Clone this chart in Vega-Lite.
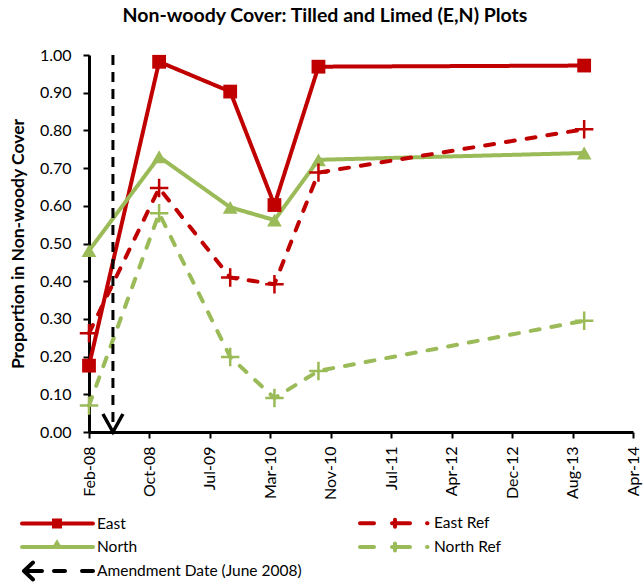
{
  "$schema": "https://vega.github.io/schema/vega-lite/v6.json",
  "width": 544,
  "height": 377,
  "autosize": {"type": "none"},
  "padding": {"left": 89, "top": 55, "right": 11, "bottom": 150},
  "background": "white",
  "config": {"font": "Lato", "view": {"stroke": null}},
  "title": {"text": "Non-woody Cover: Tilled and Limed (E,N) Plots", "fontSize": 19.5, "fontWeight": "bold", "font": "Lato", "color": "black", "anchor": "middle", "dx": -36, "offset": 21},
  "data": {"values": [
    {"series": "East", "date": "2008-02-23", "value": 0.176},
    {"series": "East", "date": "2008-12-09", "value": 0.982},
    {"series": "East", "date": "2009-09-29", "value": 0.903},
    {"series": "East", "date": "2010-03-31", "value": 0.602},
    {"series": "East", "date": "2010-09-29", "value": 0.969},
    {"series": "East", "date": "2013-10-02", "value": 0.972},
    {"series": "North", "date": "2008-02-23", "value": 0.481},
    {"series": "North", "date": "2008-12-09", "value": 0.730},
    {"series": "North", "date": "2009-09-29", "value": 0.596},
    {"series": "North", "date": "2010-03-31", "value": 0.562},
    {"series": "North", "date": "2010-09-29", "value": 0.722},
    {"series": "North", "date": "2013-10-02", "value": 0.740},
    {"series": "East Ref", "date": "2008-02-23", "value": 0.262},
    {"series": "East Ref", "date": "2008-12-09", "value": 0.647},
    {"series": "East Ref", "date": "2009-09-29", "value": 0.410},
    {"series": "East Ref", "date": "2010-03-31", "value": 0.392},
    {"series": "East Ref", "date": "2010-09-29", "value": 0.688},
    {"series": "East Ref", "date": "2013-10-02", "value": 0.803},
    {"series": "North Ref", "date": "2008-02-23", "value": 0.070},
    {"series": "North Ref", "date": "2008-12-09", "value": 0.580},
    {"series": "North Ref", "date": "2009-09-29", "value": 0.199},
    {"series": "North Ref", "date": "2010-03-31", "value": 0.090},
    {"series": "North Ref", "date": "2010-09-29", "value": 0.162},
    {"series": "North Ref", "date": "2013-10-02", "value": 0.295},
    {"series": "Amendment Date (June 2008)", "date": "2008-06-01", "value": 1.0},
    {"series": "Amendment Date (June 2008)", "date": "2008-06-01", "value": 0.0}
  ]},
  "encoding": {
    "x": {
      "field": "date", "type": "temporal",
      "scale": {"type": "utc", "domain": [{"year": 2008, "month": 2, "date": 23, "utc": true}, {"year": 2014, "month": 4, "date": 22, "utc": true}]},
      "axis": {
        "values": [
          {"year": 2008, "month": 2, "date": 23, "utc": true},
          {"year": 2008, "month": 10, "date": 30, "utc": true},
          {"year": 2009, "month": 7, "date": 7, "utc": true},
          {"year": 2010, "month": 3, "date": 14, "utc": true},
          {"year": 2010, "month": 11, "date": 19, "utc": true},
          {"year": 2011, "month": 7, "date": 27, "utc": true},
          {"year": 2012, "month": 4, "date": 2, "utc": true},
          {"year": 2012, "month": 12, "date": 8, "utc": true},
          {"year": 2013, "month": 8, "date": 15, "utc": true},
          {"year": 2014, "month": 4, "date": 22, "utc": true}
        ],
        "format": "%b-%y",
        "labelAngle": 270, "labelAlign": "right", "labelBaseline": "middle",
        "labelFontSize": 16, "labelColor": "black", "labelPadding": 8,
        "labelFlush": false, "labelOverlap": false,
        "tickSize": 6, "tickWidth": 2, "tickColor": "black",
        "domainColor": "black", "domainWidth": 3,
        "grid": false, "title": null
      }
    },
    "y": {
      "field": "value", "type": "quantitative",
      "scale": {"domain": [0, 1]},
      "axis": {
        "values": [0, 0.1, 0.2, 0.3, 0.4, 0.5, 0.6, 0.7, 0.8, 0.9, 1.0],
        "format": ".2f",
        "labelFontSize": 16, "labelColor": "black", "labelPadding": 12, "labelFlush": false,
        "tickSize": 6, "tickWidth": 2, "tickColor": "black",
        "domainColor": "black", "domainWidth": 3,
        "grid": false,
        "title": "Proportion in Non-woody Cover",
        "titleFontSize": 17.5, "titleFontWeight": "bold", "titleColor": "black", "titlePadding": 12
      }
    },
    "color": {
      "field": "series", "type": "nominal",
      "scale": {
        "domain": ["East", "North", "Amendment Date (June 2008)", "East Ref", "North Ref"],
        "range": ["#C00000", "#9BBB59", "#000000", "#C00000", "#9BBB59"]
      },
      "legend": {
        "orient": "none", "legendX": -69, "legendY": 456,
        "columns": 2, "title": null,
        "columnPadding": 50, "rowPadding": -7,
        "symbolSize": 400, "symbolStrokeWidth": 4,
        "labelFontSize": 15.5, "labelColor": "black", "labelFont": "Lato", "labelOffset": 53,
        "labelLimit": 400,
        "encode": {
          "symbols": {
            "update": {
              "shape": {"signal": "datum.value === 'East' ? 'M-1,0H6.1M2.2,-0.3H2.8V0.3H2.2Z' : datum.value === 'North' ? 'M-1,0H6.1M2.25,0L2.5,-0.4L2.75,0Z' : datum.value === 'Amendment Date (June 2008)' ? 'M-0.8,0L0.1,-0.85M-0.8,0L0.1,0.85M-0.8,0H1M2.2,0H3.3M5,0H6.1' : 'M-0.9,0H0.5M2.3,0H4.1M2.6,-0.35V0.35M5.8,0H5.85'"},
              "fill": {"scale": "color", "field": "value"},
              "stroke": {"scale": "color", "field": "value"},
              "strokeCap": {"value": "round"},
              "strokeWidth": {"value": 4},
              "opacity": {"value": 1}
            }
          }
        }
      }
    }
  },
  "layer": [
    {
      "transform": [{"filter": "datum.series !== 'Amendment Date (June 2008)'"}],
      "mark": {"type": "line", "strokeWidth": 4, "strokeCap": "round", "strokeJoin": "round"},
      "encoding": {
        "strokeDash": {
          "field": "series", "type": "nominal",
          "scale": {"domain": ["East", "East Ref", "North", "North Ref"], "range": [[1, 0], [9, 12], [1, 0], [9, 12]]},
          "legend": null
        }
      }
    },
    {
      "transform": [{"filter": "datum.series === 'Amendment Date (June 2008)'"}],
      "mark": {"type": "line", "strokeWidth": 3, "strokeDash": [10, 7]},
      "encoding": {"order": {"field": "value", "sort": "descending"}}
    },
    {
      "transform": [{"filter": "datum.series === 'East'"}],
      "mark": {"type": "point", "shape": "square", "filled": true, "size": 190, "opacity": 1}
    },
    {
      "transform": [{"filter": "datum.series === 'North'"}],
      "mark": {"type": "point", "shape": "triangle-up", "filled": true, "size": 220, "opacity": 1}
    },
    {
      "transform": [{"filter": "datum.series === 'East Ref' || datum.series === 'North Ref'"}],
      "mark": {"type": "point", "shape": "M-1,0H1M0,-1V1", "filled": false, "strokeWidth": 2.5, "size": 340, "opacity": 1}
    },
    {
      "transform": [{"filter": "datum.series === 'Amendment Date (June 2008)' && datum.value === 0"}],
      "mark": {"type": "point", "shape": "M-1,-1.8L0,0L1,-1.8", "filled": false, "strokeWidth": 3.5, "size": 400, "opacity": 1}
    }
  ]
}
